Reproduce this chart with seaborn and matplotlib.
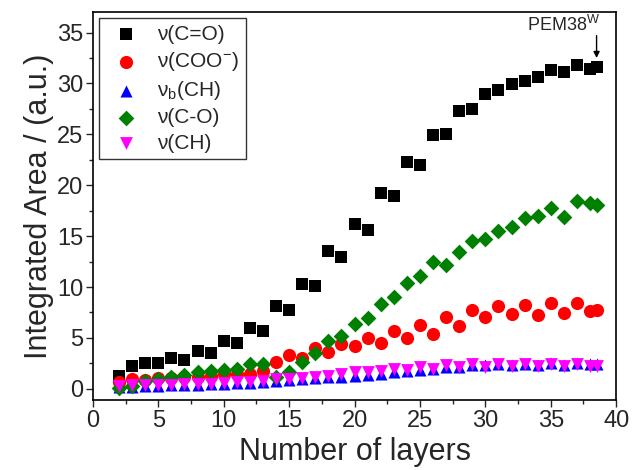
import numpy as np
import pandas as pd
import matplotlib
matplotlib.use("Agg")
import matplotlib.pyplot as plt
import seaborn as sns

# ---- data ----
layers = [2, 3, 4, 5, 6, 7, 8, 9, 10, 11, 12, 13, 14, 15, 16, 17, 18, 19, 20,
          21, 22, 23, 24, 25, 26, 27, 28, 29, 30, 31, 32, 33, 34, 35, 36, 37, 38, 38.5]

nu_CO_double = [1.27, 2.2, 2.5, 2.5, 3.0, 2.8, 3.7, 3.5, 4.7, 4.5, 6.0, 5.7, 8.1, 7.7,
                10.3, 10.1, 13.5, 12.9, 16.2, 15.6, 19.25, 18.95, 22.3, 22.0, 24.9, 25.0,
                27.3, 27.5, 29.0, 29.4, 29.9, 30.2, 30.6, 31.3, 31.1, 31.8, 31.4, 31.6]
nu_COO = [0.7, 0.95, 0.9, 1.05, 1.1, 1.15, 1.2, 1.3, 1.45, 1.5, 1.45, 1.75, 2.6, 3.3,
          3.0, 4.0, 3.6, 4.4, 4.25, 5.0, 4.5, 5.7, 5.0, 6.3, 5.4, 7.1, 6.2, 7.75,
          7.1, 8.1, 7.3, 8.2, 7.2, 8.4, 7.4, 8.4, 7.6, 7.75]
nu_b_CH = [0.15, 0.2, 0.25, 0.3, 0.35, 0.35, 0.4, 0.45, 0.5, 0.55, 0.6, 0.65, 0.8, 0.85,
           0.95, 1.05, 1.15, 1.2, 1.3, 1.4, 1.5, 1.6, 1.7, 1.85, 1.9, 2.1, 2.15, 2.3,
           2.3, 2.45, 2.35, 2.45, 2.35, 2.5, 2.35, 2.5, 2.4, 2.45]
nu_C_O = [0.05, 0.3, 0.8, 0.95, 1.2, 1.35, 1.6, 1.7, 1.85, 1.95, 2.4, 2.45, 1.2, 1.6,
          2.6, 3.5, 4.7, 5.2, 6.4, 7.0, 8.3, 9.0, 10.4, 11.1, 12.5, 12.2, 13.4, 14.5,
          14.75, 15.5, 15.9, 16.8, 17.0, 17.8, 16.9, 18.45, 18.3, 18.1]
nu_CH = [0.3, 0.35, 0.35, 0.4, 0.4, 0.45, 0.45, 0.5, 0.6, 0.65, 0.7, 0.8, 0.95, 1.0,
         1.05, 1.2, 1.3, 1.45, 1.6, 1.6, 1.7, 1.95, 1.85, 2.1, 1.95, 2.3, 2.1, 2.4,
         2.15, 2.45, 2.2, 2.4, 2.2, 2.45, 2.2, 2.45, 2.2, 2.25]

series_labels = ["ν(C=O)", "ν(COO$^{\\mathrm{-}}$)", "ν$_{\\mathrm{b}}$(CH)", "ν(C-O)", "ν(CH)"]
series_values = [nu_CO_double, nu_COO, nu_b_CH, nu_C_O, nu_CH]
series_colors = ["black", "red", "blue", "green", "magenta"]
series_markers = ["s", "o", "^", "D", "v"]
series_sizes = [64, 90, 75, 64, 85]

sns.set_style("ticks")
plt.rcParams["font.family"] = ["Liberation Sans", "DejaVu Sans"]
plt.rcParams["mathtext.fontset"] = "custom"
plt.rcParams["mathtext.rm"] = "Liberation Sans"
plt.rcParams["mathtext.it"] = "Liberation Sans:italic"

fig = plt.figure(figsize=(6.32, 4.70), dpi=100)
ax = fig.add_axes([0.147, 0.149, 0.828, 0.825])

for lab, vals, col, mk, sz in zip(series_labels, series_values, series_colors,
                                  series_markers, series_sizes):
    df = pd.DataFrame({"x": layers, "y": vals})
    sns.scatterplot(data=df, x="x", y="y", ax=ax, color=col, marker=mk, s=sz,
                    linewidth=0, label=lab)

ax.set_xlim(0, 40)
ax.set_ylim(-1.1, 37)
ax.set_xticks(np.arange(0, 41, 5))
ax.set_yticks(np.arange(0, 36, 5))
ax.set_xticks(np.arange(0, 41, 2.5), minor=True)
ax.set_yticks(np.arange(0, 36, 2.5), minor=True)
ax.tick_params(axis="both", which="major", direction="out", length=5, width=1,
               labelsize=17, pad=2)
ax.tick_params(axis="both", which="minor", direction="out", length=3, width=1)
for sp in ax.spines.values():
    sp.set_visible(True)
    sp.set_linewidth(1.2)
    sp.set_color("black")

ax.set_xlabel("Number of layers", fontsize=22, labelpad=4)
ax.set_ylabel("Integrated Area / (a.u.)", fontsize=22, labelpad=2)

leg = ax.legend(loc="upper left", fontsize=15, frameon=True, fancybox=False,
                edgecolor="black", borderaxespad=0.3, handletextpad=0.5,
                labelspacing=0.3, borderpad=0.3, markerscale=1.0)
leg.get_frame().set_linewidth(1.0)

# annotation: vertical arrow pointing at the last point
ax.text(38.75, 34.75, "PEM38$^{\\mathrm{W}}$", ha="right", va="bottom", fontsize=13)
ax.annotate("", xy=(38.5, 32.5), xytext=(38.5, 34.7),
            arrowprops=dict(arrowstyle="-|>", color="black", lw=1,
                            mutation_scale=9, shrinkA=0, shrinkB=0))

fig.savefig("out.png", dpi=100)
